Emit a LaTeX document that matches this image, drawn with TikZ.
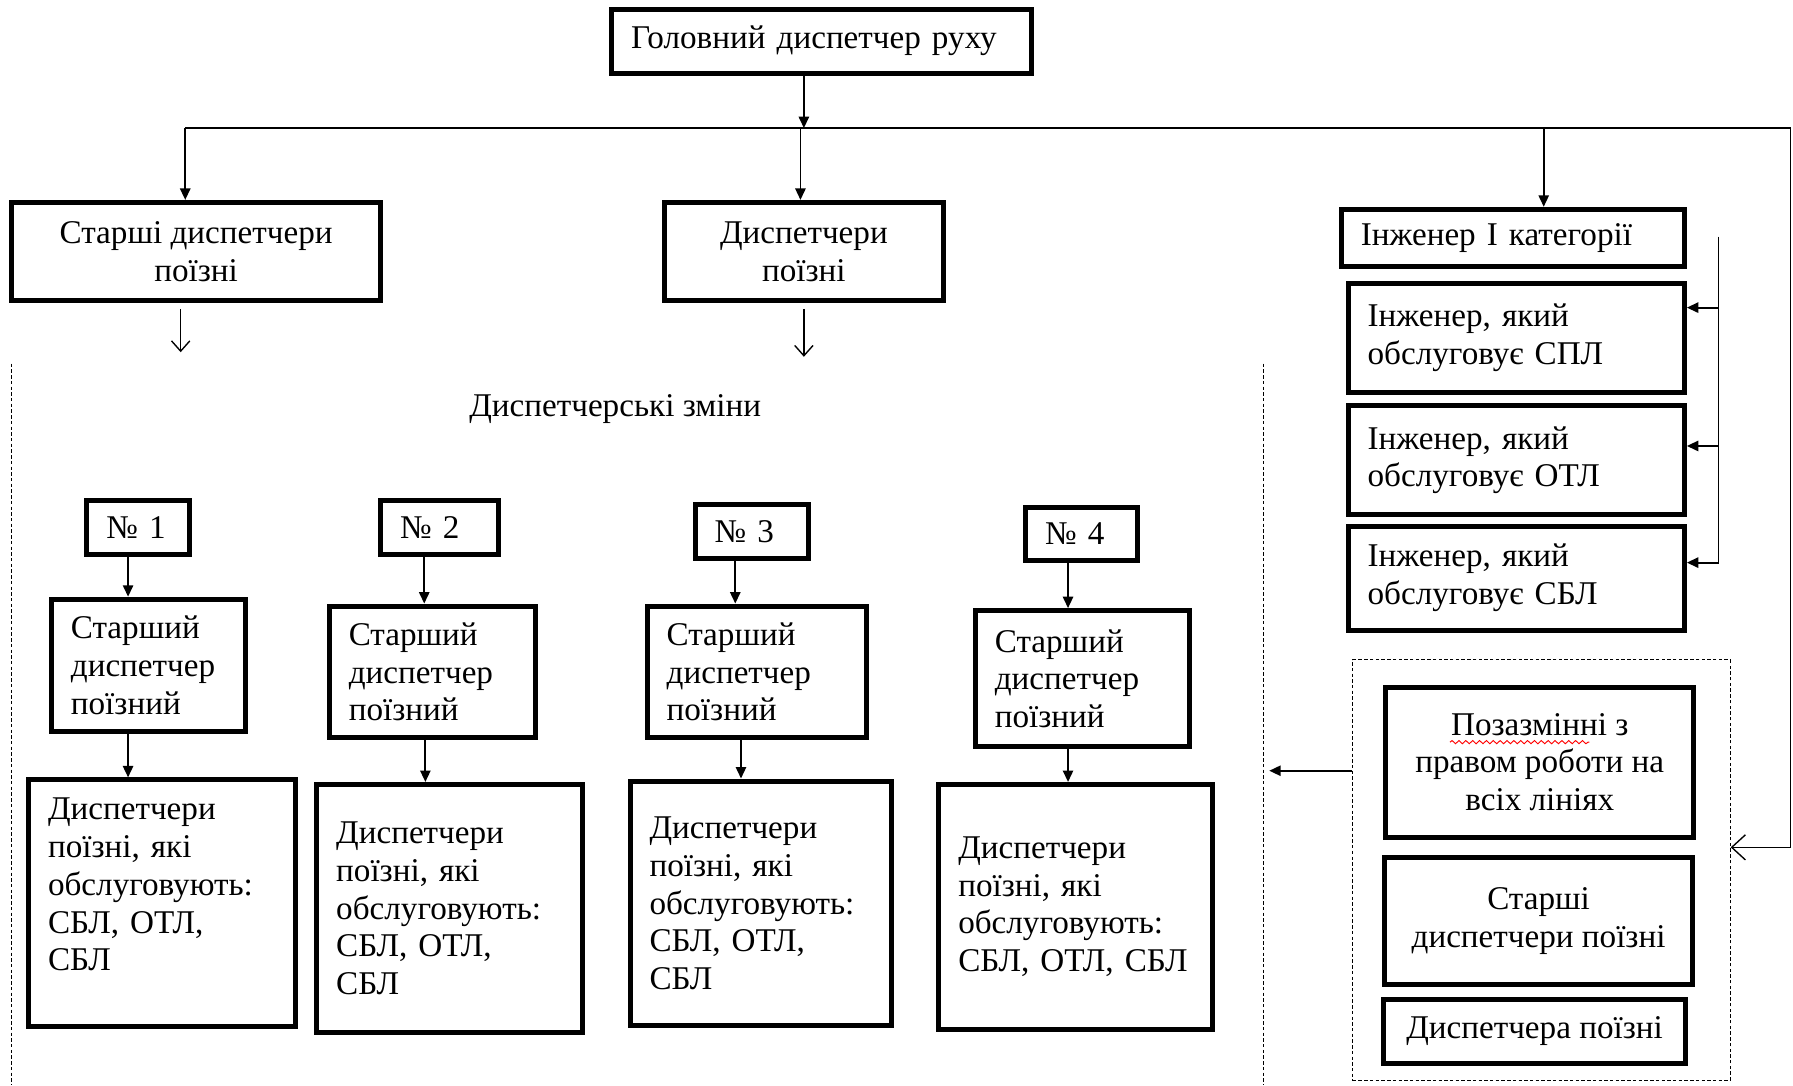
\documentclass[tikz,border=0pt]{standalone}
\usepackage{fontspec}
\setmainfont{Liberation Serif}
\usetikzlibrary{arrows.meta,decorations.pathmorphing}

\begin{document}
\begin{tikzpicture}[x=0.5pt,y=-0.5pt,
    every node/.style={font=\fontsize{14.5}{16.5}\selectfont},
    box/.style={draw,line width=2.2pt,inner sep=0pt},
    lbox/.style={box,align=left,inner xsep=8.5pt,text width=#1},
    cbox/.style={box,align=center},
    arr/.style={-{Triangle[length=5pt,width=4.5pt]},line width=0.8pt},
    oarr/.style={-{Straight Barb[length=4.5pt,width=8pt]},line width=0.6pt},
    dline/.style={line width=0.5pt,dash pattern=on 1.5pt off 1pt}]

    \useasboundingbox (0,0) rectangle (1568,949); %рамка

    \node[lbox=166.5pt,minimum height=28pt] (gdr) at (718.5,36) {Головний диспетчер руху}; %верх
    \node[cbox,minimum width=161.5pt,minimum height=43pt] (sdp) at (171.5,220) {Старші диспетчери\\поїзні};
    \node[cbox,minimum width=122pt,minimum height=43pt] (dp) at (703,220) {Диспетчери\\поїзні};
    \node[lbox=133pt,minimum height=25pt] (ik) at (1323,208) {Інженер І категорії};

    \coordinate (b0) at (703,112); %шина
    \coordinate (b1) at (162,112);
    \coordinate (b2) at (700,112);
    \coordinate (b3) at (1350,112);
    \coordinate (bR) at (1566,112);
    \coordinate (bD) at (1566,741);
    \draw[arr] (gdr.south -| b0) -- (b0);
    \draw[line width=0.6pt] (b1) -- (bR) -- (bD);
    \draw[arr] (b1) -- (b1 |- sdp.north);
    \draw[arr] (b2) -- (b2 |- dp.north);
    \draw[arr] (b3) -- (b3 |- ik.north);

    \coordinate (o1) at (158,308);
    \coordinate (o2) at (703,312);
    \draw[oarr,shorten <=2.5pt] (sdp.south -| o1) -- (o1);
    \draw[oarr,shorten <=2.5pt] (dp.south -| o2) -- (o2);

    \draw[dline] (10,318) -- (10,949); %межі змін
    \draw[dline] (1105,318) -- (1105,949);
    \node (dzm) at (538,358) {Диспетчерські зміни};

    \foreach \i/\x/\y/\w in {1/121/461.5/28,2/384.5/461.5/34.5,3/657.5/465/32.5,4/946/467/32}
        \node[lbox=\w pt,minimum height=23.5pt] (n\i) at (\x,\y) {№ \i}; %номери змін
    \foreach \i/\x/\y/\w/\h in {1/130/582/68/58,2/378/587.5/73/57.5,3/662/587.5/79/57.5,4/946.5/593.5/76.5/59.5}
        \node[lbox=\w pt,minimum height=\h pt] (st\i) at (\x,\y) {Старший\\диспетчер\\поїзний};

    \node[lbox=99.5pt,minimum height=108pt] (dz1) at (141.5,790) {Диспетчери\\поїзні, які\\обслуговують:\\СБЛ, ОТЛ,\\СБЛ\\ \mbox{}};
    \node[lbox=99pt,minimum height=108.5pt] (dz2) at (393,794.5) {Диспетчери\\поїзні, які\\обслуговують:\\СБЛ, ОТЛ,\\СБЛ};
    \node[lbox=97.5pt,minimum height=107pt] (dz3) at (665.5,790) {Диспетчери\\поїзні, які\\обслуговують:\\СБЛ, ОТЛ,\\СБЛ};
    \node[lbox=102.5pt,minimum height=107pt] (dz4) at (940.5,793) {Диспетчери\\поїзні, які\\обслуговують:\\СБЛ, ОТЛ, СБЛ};

    \foreach \i/\a/\b in {1/112/112,2/371/372,3/643/648,4/934/934}{
        \coordinate (ca\i) at (\a,0);
        \coordinate (cb\i) at (\b,0);
        \draw[arr] (n\i.south -| ca\i) -- (st\i.north -| ca\i);
        \draw[arr] (st\i.south -| cb\i) -- (dz\i.north -| cb\i);
    }

    \foreach \i/\y/\h/\t in {1/295.5/47.5/СПЛ,2/402.5/47.5/ОТЛ,3/505.5/45.5/СБЛ}
        \node[lbox=130pt,minimum height=\h pt] (e\i) at (1326,\y) {Інженер, який\\обслуговує \t}; %інженери
    \coordinate (v0) at (1503,207);
    \coordinate (v1) at (1503,269);
    \coordinate (v2) at (1503,390);
    \coordinate (v3) at (1503,492);
    \draw[line width=0.6pt] (v0) -- (v3);
    \foreach \i in {1,2,3} \draw[arr] (v\i) -- (v\i -| e\i.east);

    \node[draw,dline,minimum width=165pt,minimum height=184pt,inner sep=0pt] (grp) at (1348,761) {}; %резерв
    \node[cbox,minimum width=134.5pt,minimum height=65.5pt] (p1) at (1346.5,666.5) {Позазмінні з\\правом роботи на\\всіх лініях};
    \node[cbox,minimum width=134.5pt,minimum height=55.5pt] (p2) at (1345.5,805.5) {Старші\\диспетчери поїзні};
    \node[cbox,minimum width=132pt,minimum height=28pt] (p3) at (1342,902) {Диспетчера поїзні};
    \coordinate (w1) at (1268,649);
    \coordinate (w2) at (1390,649);
    \draw[red,line width=0.4pt,decorate,decoration={snake,amplitude=0.7pt,segment length=3pt}] (w1) -- (w2); %підкреслення

    \coordinate (gl) at (1110,674);
    \draw[arr] (gl -| grp.west) -- (gl);
    \draw[-{Straight Barb[length=6pt,width=11pt]},line width=0.6pt] (bD) -- (bD -| grp.east);

\end{tikzpicture}
\end{document}
